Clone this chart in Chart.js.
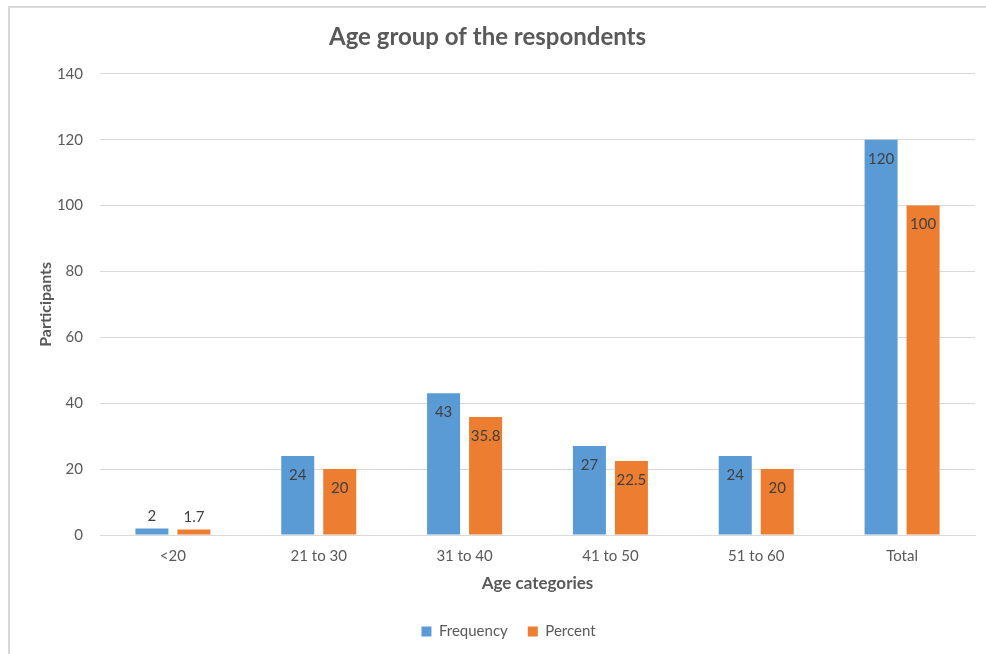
<!DOCTYPE html>
<html>
<head>
<meta charset="utf-8">
<script src="https://cdn.jsdelivr.net/npm/chart.js@4/dist/chart.umd.min.js"></script>
<style>
  html, body { margin: 0; padding: 0; background: #ffffff; }
  #wrap { width: 986px; height: 654px; position: relative; }
</style>
</head>
<body>
<div id="wrap"><canvas id="chart" width="986" height="654"></canvas></div>
<script>
// Age groups and counts of respondents
const categories = ['<20', '21 to 30', '31 to 40', '41 to 50', '51 to 60', 'Total'];
const frequency = [2, 24, 43, 27, 24, 120];
const percent = [1.7, 20, 35.8, 22.5, 20, 100];
const yTicks = [0, 20, 40, 60, 80, 100, 120, 140];

const FONT = 'Lato, "Open Sans", sans-serif';
const TEXT = '#595959';
const GRID = '#d9d9d9';

// Thin frame around the whole chart
const framePlugin = {
  id: 'frame',
  beforeDraw(chart) {
    const ctx = chart.ctx;
    ctx.save();
    ctx.fillStyle = '#ffffff';
    ctx.fillRect(0, 0, chart.width, chart.height);
    ctx.strokeStyle = GRID;
    ctx.lineWidth = 2;
    ctx.beginPath();
    ctx.moveTo(9, chart.height);
    ctx.lineTo(9, 7);
    ctx.lineTo(chart.width, 7);
    ctx.stroke();
    ctx.restore();
  }
};

// Nudge the legend so it sits under the centre of the plot
const legendShift = {
  id: 'legendShift',
  afterLayout(chart) {
    const lg = chart.legend;
    if (lg) { lg.left += 21; lg.right += 21; }
  }
};

// Value labels: inside the top of tall bars, just above short ones
const valueLabels = {
  id: 'valueLabels',
  afterDatasetsDraw(chart) {
    const ctx = chart.ctx;
    ctx.save();
    ctx.font = '15px ' + FONT;
    ctx.fillStyle = '#404040';
    ctx.textAlign = 'center';
    ctx.textBaseline = 'middle';
    chart.data.datasets.forEach((ds, i) => {
      const meta = chart.getDatasetMeta(i);
      meta.data.forEach((bar, j) => {
        const h = bar.base - bar.y;
        const y = h > 30 ? bar.y + 19 : bar.y - 12;
        ctx.fillText(String(ds.data[j]), bar.x, y);
      });
    });
    ctx.restore();
  }
};

new Chart(document.getElementById('chart'), {
  type: 'bar',
  data: {
    labels: categories,
    datasets: [
      { label: 'Frequency', data: frequency, backgroundColor: '#5b9bd5',
        categoryPercentage: 0.576, barPercentage: 0.786 },
      { label: 'Percent', data: percent, backgroundColor: '#ed7d31',
        categoryPercentage: 0.576, barPercentage: 0.786 }
    ]
  },
  options: {
    responsive: false,
    animation: false,
    layout: { padding: { left: 0, right: 11, top: 0, bottom: 5 } },
    plugins: {
      title: {
        display: true,
        text: 'Age group of the respondents',
        color: TEXT,
        font: { family: FONT, size: 24, weight: 'bold' },
        padding: { top: 23, bottom: 22 }
      },
      legend: {
        position: 'bottom',
        labels: {
          color: TEXT,
          font: { family: FONT, size: 15 },
          boxWidth: 10,
          boxHeight: 10,
          padding: 20
        }
      },
      tooltip: { enabled: false }
    },
    scales: {
      x: {
        grid: { display: false, drawTicks: false },
        border: { display: true, color: GRID, width: 1 },
        ticks: { color: TEXT, font: { family: FONT, size: 15 }, padding: 12 },
        title: {
          display: true,
          text: 'Age categories',
          color: TEXT,
          font: { family: FONT, size: 17, weight: 'bold' },
          padding: { top: 8, bottom: 10 }
        },
        afterFit(axis) { axis.height = 69; }
      },
      y: {
        min: 0,
        max: 140,
        afterBuildTicks(axis) { axis.ticks = yTicks.map(v => ({ value: v })); },
        grid: { color: GRID, lineWidth: 1, drawTicks: false },
        border: { display: false },
        ticks: { color: TEXT, font: { family: FONT, size: 15 }, padding: 17 },
        title: {
          display: true,
          text: 'Participants',
          color: TEXT,
          font: { family: FONT, size: 16, weight: 'bold' },
          padding: { top: 36, bottom: 0 }
        },
        afterFit(axis) { axis.width = 100; }
      }
    }
  },
  plugins: [framePlugin, legendShift, valueLabels]
});
</script>
</body>
</html>
